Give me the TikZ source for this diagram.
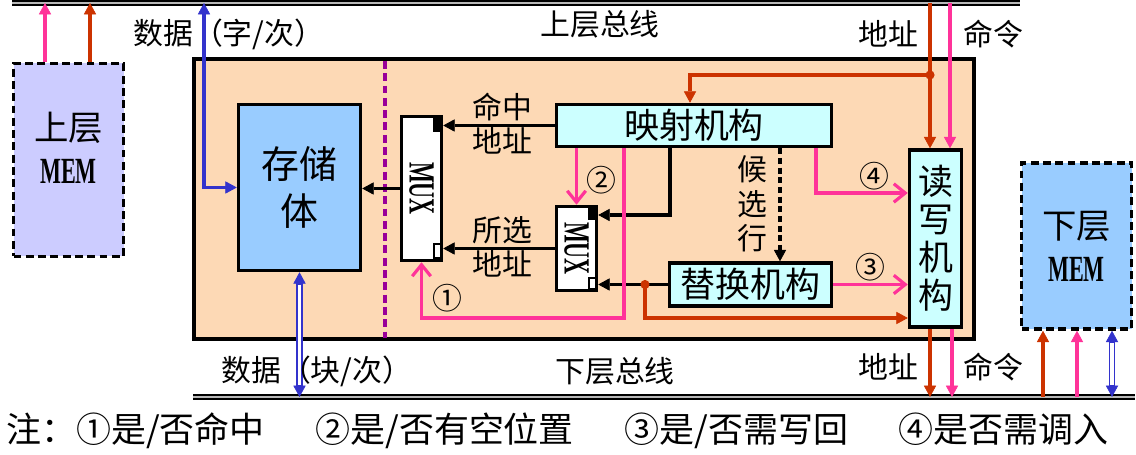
\documentclass[tikz,border=0pt]{standalone}
\usepackage{fontspec}
\usepackage{graphicx}
\usetikzlibrary{arrows.meta}

\setmainfont{Noto Sans CJK SC}
\newfontfamily\memfont{Liberation Serif}

\definecolor{cachebg}{RGB}{253,217,181}
\definecolor{mapfill}{RGB}{204,255,255}
\definecolor{storefill}{RGB}{153,204,255}
\definecolor{upfill}{RGB}{204,204,255}
\definecolor{pk}{RGB}{255,51,153}
\definecolor{og}{RGB}{204,51,0}
\definecolor{bl}{RGB}{51,51,204}
\definecolor{pu}{RGB}{153,0,153}

\newcommand{\lblfont}{\fontsize{17}{19.5}\selectfont}
\newcommand{\boxfont}{\fontsize{19.9}{21.6}\selectfont}
\newcommand{\memboxfont}{\fontsize{19.6}{24.5}\selectfont}
\newcommand{\storefont}{\fontsize{21.6}{27.3}\selectfont}
\newcommand{\notefont}{\fontsize{19.9}{22}\selectfont}
\newcommand{\memtxt}[1]{\scalebox{0.6}[1]{\memfont\bfseries\fontsize{21}{21}\selectfont #1}}

\begin{document}
\begin{tikzpicture}[x=0.02cm, y=-0.02cm,
  >={Triangle[length=6.5pt, width=7pt, line width=0.4pt]},
  box/.style={draw, line width=2pt, inner sep=0pt},
  membox/.style={box, dash pattern=on 4.5pt off 2.5pt},
  muxbox/.style={box, fill=white, minimum width=40*\px},
  lbl/.style={font=\lblfont, inner sep=0pt, align=center},
  wire/.style={line width=1.8pt},
  barb/.style={wire, pk, -{Straight Barb[length=6.5pt, width=10.5pt]}},
  dbl/.style={bl, line width=3.8pt, <->, postaction={draw=white, line width=1.9pt, shorten <=7pt, shorten >=7pt, -}},
  bus/.style={line width=0.9pt, double=gray!55, double distance=1.4pt}]

  % Pixel unit
  \def\px{0.02cm}

  \useasboundingbox (0,0) rectangle (1136,455);

  % Buses
  \coordinate (tb) at (12,3);
  \coordinate (bb) at (193,397);
  \draw[bus] (tb) -- (1020,3);
  \draw[bus] (bb) -- (1135,397);

  % Cache frame and dividing line
  \draw[line width=2pt, fill=cachebg] (194,59) rectangle (974,339);
  \draw[pu, line width=2pt, dash pattern=on 4.5pt off 2.5pt] (385,61) -- (385,338);

  % Memories
  \node[membox, fill=upfill, minimum width=110*\px, minimum height=193*\px] (umem) at (68.5,160) {};
  \node[font=\memboxfont, align=center, inner sep=0pt] (umemtxt) at (68.5,148) {上层\\\memtxt{MEM}};
  \node[membox, fill=storefill, minimum width=110*\px, minimum height=166*\px, font=\memboxfont, align=center] (lmem) at (1076.5,246) {下层\\\memtxt{MEM}};

  % Cache parts
  \node[box, fill=storefill, minimum width=122*\px, minimum height=166*\px, font=\storefont, align=center] (store) at (299.5,187.5) {存储\\体};
  \node[muxbox, minimum height=144*\px] (mux1) at (421.5,188.5) {\rotatebox{-90}{\memtxt{MUX}}};
  \node[muxbox, minimum height=84*\px] (mux2) at (576.5,248.5) {\rotatebox{-90}{\memtxt{MUX}}};
  \node[box, fill=mapfill, minimum width=275*\px, minimum height=42*\px, font=\boxfont] (map) at (694,125.5) {映射机构};
  \node[box, fill=mapfill, minimum width=162*\px, minimum height=43*\px, font=\boxfont] (rep) at (750.5,284.5) {替换机构};
  \node[box, fill=mapfill, minimum width=52*\px, minimum height=177*\px, font=\boxfont, align=center] (rw) at (935.5,238.5) {读\\写\\机\\构};

  % MUX inputs
  \fill (mux1.north east) ++(-10,0) rectangle ++(10,17);
  \draw[line width=1.1pt, fill=white] (mux1.south east) ++(-9,-4) rectangle ++(7,-14);
  \fill (mux2.north east) ++(-10,0) rectangle ++(10,15);
  \draw[line width=1.1pt, fill=white] (mux2.south east) ++(-9,-3) rectangle ++(7,-11);

  % Data paths
  \draw[wire, bl, <->] (tb -| 204,0) |- (store.west);
  \draw[dbl] (store.south) -- (bb -| store.south);
  \draw[dbl] (bb -| 1112,0) -- (lmem.south -| 1112,0);
  \draw[wire, ->] (mux1.west) -- (store.east |- mux1.west);
  \draw[wire, ->] (map.west) -- (mux1.east |- map.west);
  \draw[wire, ->] (mux2.west) -- (mux1.east |- mux2.west);
  \draw[wire, ->] (map.south -| 670,0) |- (mux2.east |- 0,215);
  \draw[wire, ->] (rep.west) -- (mux2.east |- rep.west);
  \draw[wire, ->, dash pattern=on 3.5pt off 2pt] (map.south -| 780,0) -- (rep.north -| 780,0);

  % Address lines
  \coordinate (br) at (930,75);
  \draw[wire, og, ->] (tb -| br) -- (rw.north -| br);
  \draw[wire, og, ->] (br) -| (map.north -| 690,0);
  \fill[og] (br) circle (2.6pt);
  \draw[wire, og, ->] (rep.west -| 645,0) |- (rw.west |- 0,318);
  \fill[og] (rep.west -| 645,0) circle (2.6pt);
  \draw[wire, og, ->] (rw.south -| br) -- (bb -| br);

  % Command lines
  \foreach \xx/\cc in {45/pk, 90/og}
    \draw[wire, \cc, ->] (umem.north -| \xx,0) -- (tb -| \xx,0);
  \foreach \xx/\cc in {1043/og, 1077/pk}
    \draw[wire, \cc, ->] (bb -| \xx,0) -- (lmem.south -| \xx,0);
  \draw[wire, pk, ->] (tb -| 950,0) -- (rw.north -| 950,0);
  \draw[wire, pk, ->] (rw.south -| 952,0) -- (bb -| 952,0);

  % Status signals
  \draw[barb] (map.south -| 624,0) |- (mux1.south |- 0,318) -- (mux1.south);
  \draw[barb] (map.south -| mux2.north) -- (mux2.north);
  \draw[barb] (map.south -| 816,0) |- (rw.west |- 0,193);
  \draw[barb] (rep.east) -- (rw.west |- rep.east);

  % Labels
  \node[lbl, anchor=west] (dw) at (133,34) {数据（字/次）};
  \node[lbl] (ubus) at (600,24) {上层总线};
  \node[lbl] (ua) at (888,34) {地址};
  \node[lbl] (uc) at (993,34) {命令};
  \node[lbl] (hit) at (502,124) {命中\\地址};
  \node[lbl] (sel) at (502,247) {所选\\地址};
  \node[lbl] (n1) at (447,298) {①};
  \node[lbl] (n2) at (601,180) {②};
  \node[lbl] (n3) at (870,267) {③};
  \node[lbl] (n4) at (874,176) {④};
  \node[lbl] (cand) at (752,204) {候\\选\\行};
  \node[lbl, anchor=west] (db) at (221,371) {数据（块/次）};
  \node[lbl] (lbus) at (615,371) {下层总线};
  \node[lbl] (la) at (888,367) {地址};
  \node[lbl] (lc) at (993,367) {命令};

  % Note
  \node[font=\notefont, anchor=west, inner sep=0pt] (note) at (6,431)
    {注：①是/否命中\hspace{1.45em}②是/否有空位置\hspace{1.45em}③是/否需写回\hspace{1.45em}④是否需调入};

\end{tikzpicture}
\end{document}
